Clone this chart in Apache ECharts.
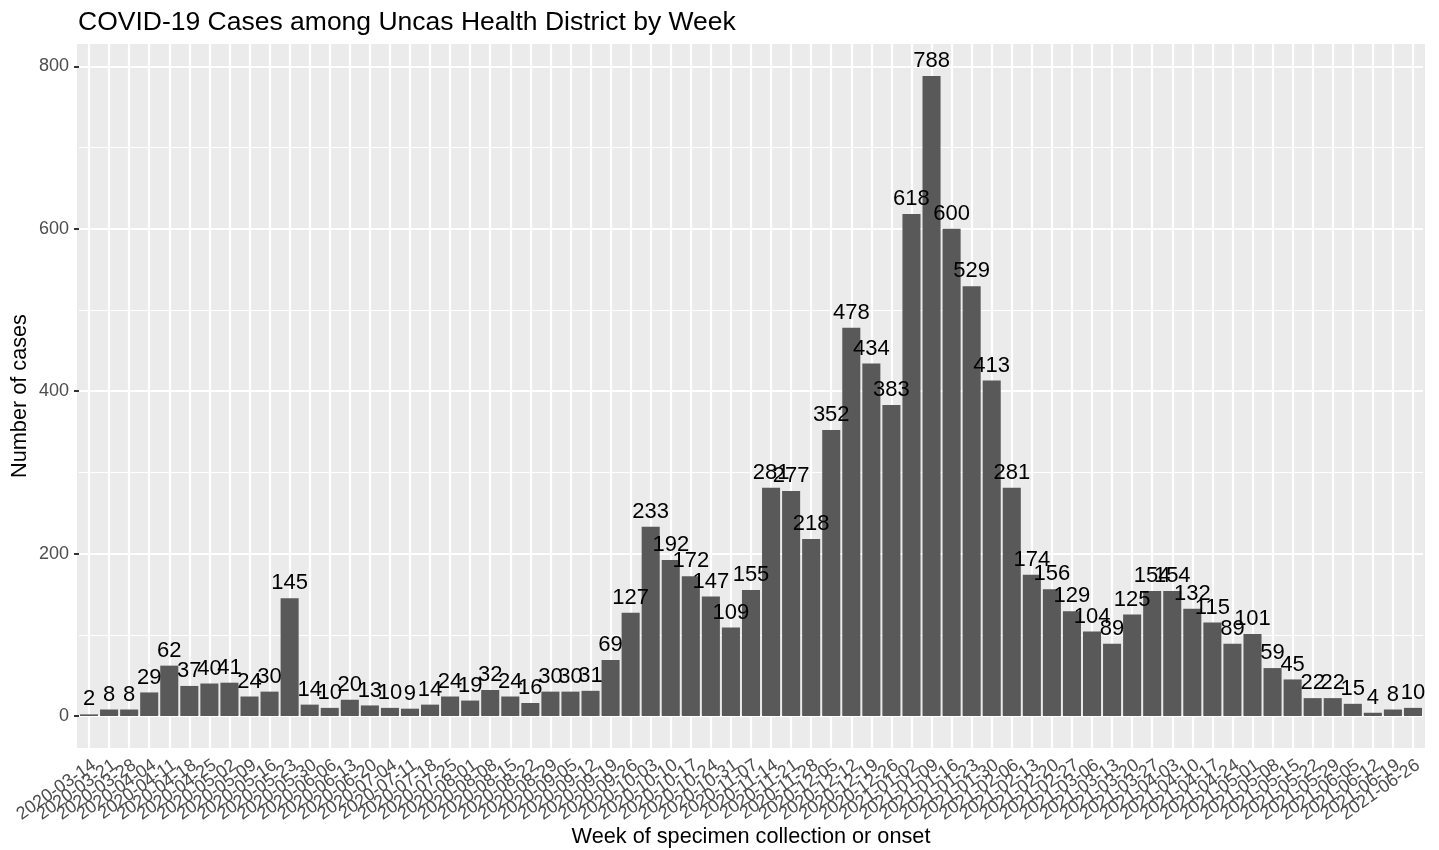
<!DOCTYPE html>
<html lang="en">
<head>
    <meta charset="UTF-8">
    <title>COVID-19 Cases among Uncas Health District by Week</title>
    <style>
        body {
            margin: 0;
            background: #fff;
        }
        #chart {
            width: 1439px;
            height: 850px;
        }
    </style>
</head>
<body>
<div id="chart"></div>

<script src="https://cdn.jsdelivr.net/npm/echarts@6/dist/echarts.min.js"></script>
<script>
    // weeks (2020-06-27 has no bar in the source)
    const weeks = [
        '2020-03-14', '2020-03-21', '2020-03-28', '2020-04-04', '2020-04-11', '2020-04-18', '2020-04-25',
        '2020-05-02', '2020-05-09', '2020-05-16', '2020-05-23', '2020-05-30', '2020-06-06', '2020-06-13',
        '2020-06-20', '2020-07-04', '2020-07-11', '2020-07-18', '2020-07-25', '2020-08-01', '2020-08-08',
        '2020-08-15', '2020-08-22', '2020-08-29', '2020-09-05', '2020-09-12', '2020-09-19', '2020-09-26',
        '2020-10-03', '2020-10-10', '2020-10-17', '2020-10-24', '2020-10-31', '2020-11-07', '2020-11-14',
        '2020-11-21', '2020-11-28', '2020-12-05', '2020-12-12', '2020-12-19', '2020-12-26', '2021-01-02',
        '2021-01-09', '2021-01-16', '2021-01-23', '2021-01-30', '2021-02-06', '2021-02-13', '2021-02-20',
        '2021-02-27', '2021-03-06', '2021-03-13', '2021-03-20', '2021-03-27', '2021-04-03', '2021-04-10',
        '2021-04-17', '2021-04-24', '2021-05-01', '2021-05-08', '2021-05-15', '2021-05-22', '2021-05-29',
        '2021-06-05', '2021-06-12', '2021-06-19', '2021-06-26'
    ];

    // weekly case counts
    const cases = [
        2, 8, 8, 29, 62, 37, 40, 41, 24, 30, 145, 14, 10, 20, 13, 10, 9, 14, 24, 19,
        32, 24, 16, 30, 30, 31, 69, 127, 233, 192, 172, 147, 109, 155, 281, 277, 218, 352, 478, 434,
        383, 618, 788, 600, 529, 413, 281, 174, 156, 129, 104, 89, 125, 154, 154, 132, 115, 89, 101, 59,
        45, 22, 22, 15, 4, 8, 10
    ];

    const yTicks = [0, 200, 400, 600, 800];
    const yMinor = [100, 300, 500, 700];

    const FONT = '"Liberation Sans", Arial, sans-serif';

    const chart = echarts.init(document.getElementById('chart'));

    // gridlines as mark lines so they sit under the bars
    const gridLines = []
        .concat(yTicks.map(v => ({ yAxis: v, lineStyle: { width: 2.2 } })))
        .concat(yMinor.map(v => ({ yAxis: v, lineStyle: { width: 1.1 } })))
        .concat(weeks.map(w => ({ xAxis: w, lineStyle: { width: 2.2 } })));

    chart.setOption({
        animation: false,
        textStyle: { fontFamily: FONT },
        title: {
            text: 'COVID-19 Cases among Uncas Health District by Week',
            left: 73,
            top: 4,
            textStyle: { fontFamily: FONT, fontSize: 26.5, fontWeight: 'normal', color: '#000' }
        },
        graphic: {
            elements: [{
                type: 'rect',
                z: -1,
                shape: { x: 77, y: 44, width: 1348, height: 704 },
                style: { fill: '#EBEBEB' },
                silent: true
            }]
        },
        grid: {
            left: 79,
            right: 16,
            top: 44,
            bottom: 102,
            containLabel: false,
            outerBoundsMode: 'none'
        },
        xAxis: {
            type: 'category',
            data: weeks,
            name: 'Week of specimen collection or onset',
            nameLocation: 'middle',
            nameGap: 78,
            nameMoveOverlap: false,
            nameTextStyle: { fontFamily: FONT, fontSize: 21.7, color: '#000' },
            axisLine: { show: false },
            axisTick: {
                alignWithLabel: true,
                interval: 0,
                length: 5,
                lineStyle: { color: '#333333', width: 2 }
            },
            axisLabel: {
                interval: 0,
                rotate: 35,
                margin: 8,
                verticalAlign: 'top',
                fontSize: 18,
                color: '#4D4D4D'
            },
            splitLine: { show: false }
        },
        yAxis: {
            type: 'value',
            min: -39.4,
            max: 827.4,
            name: 'Number of cases',
            nameLocation: 'middle',
            nameRotate: 90,
            nameGap: 48,
            nameMoveOverlap: false,
            nameTextStyle: { fontFamily: FONT, fontSize: 21.7, color: '#000' },
            axisLine: { show: false },
            axisTick: {
                show: true,
                customValues: yTicks,
                length: 5,
                lineStyle: { color: '#333333', width: 2 }
            },
            axisLabel: {
                customValues: yTicks,
                margin: 10,
                fontSize: 18,
                color: '#4D4D4D'
            },
            splitLine: { show: false }
        },
        series: [
            {
                type: 'line',
                data: [],
                silent: true,
                markLine: {
                    z: 1,
                    silent: true,
                    symbol: 'none',
                    label: { show: false },
                    lineStyle: { color: '#FFFFFF', type: 'solid' },
                    emphasis: { disabled: true },
                    data: gridLines
                }
            },
            {
                type: 'bar',
                z: 2,
                data: cases,
                barWidth: '90%',
                itemStyle: { color: '#595959' },
                label: {
                    show: true,
                    position: 'top',
                    distance: 4,
                    fontFamily: FONT,
                    fontSize: 22,
                    color: '#000'
                }
            }
        ]
    });
</script>
</body>
</html>
